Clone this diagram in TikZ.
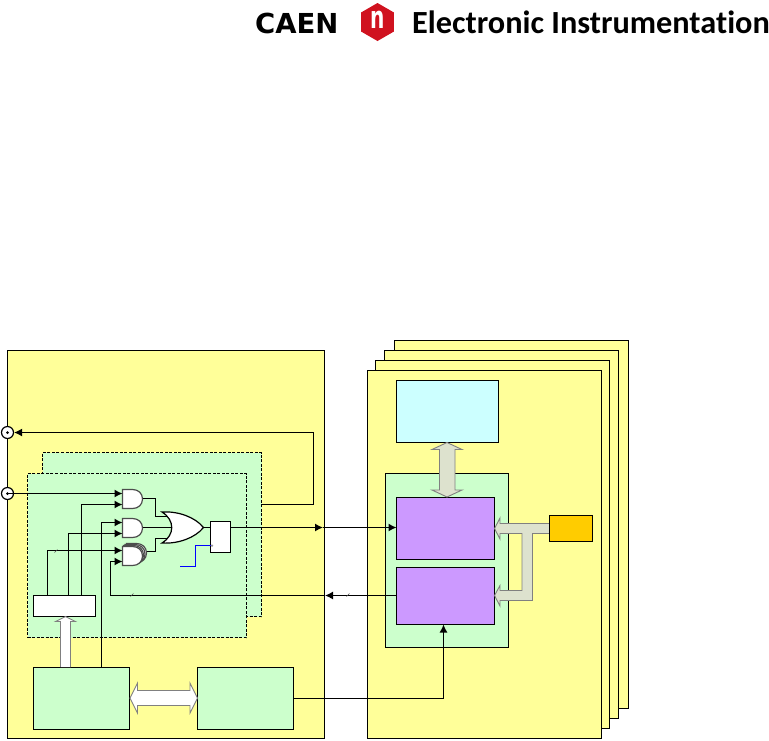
\documentclass[tikz,border=0pt]{standalone}
\usepackage{fontspec}
\usepackage{tikz}
\usetikzlibrary{arrows.meta, positioning, calc, shapes.geometric}

\newfontfamily\logoheavy{DejaVu Sans}
\newfontfamily\logotext[Ligatures=NoCommon]{Carlito}

\definecolor{boardyellow}{HTML}{FFFF99}
\definecolor{logicgreen}{HTML}{CCFFCC}
\definecolor{memcyan}{HTML}{CCFFFF}
\definecolor{fpgapurple}{HTML}{CC99FF}
\definecolor{clockorange}{HTML}{FFCC00}
\definecolor{busgrey}{HTML}{DDE2CE}
\definecolor{caenred}{HTML}{D0121F}

\tikzset{
    block/.style={draw=black, line width=1.2pt, inner sep=0pt, outer sep=0pt, anchor=north west},
    dashblock/.style={block, fill=logicgreen, line width=1pt, dash pattern=on 3pt off 1.5pt},
    sig/.style={draw=black, line width=1.2pt},
    sigarrow/.style={sig, -{Latex[length=8pt,width=8pt]}},
    conn/.style={circle, draw=black, fill=white, line width=1.2pt, minimum size=12pt, inner sep=0pt},
    bigarrow/.style={draw=black!50, line width=0.9pt},
    pics/andgate/.style={code={
        \draw[draw=black!70, fill=white, line width=1.2pt] (0,0) -- (10,0) .. controls (16,0) and (20,4) .. (20,9.5)
            .. controls (20,15) and (16,19) .. (10,19) -- (0,19) -- cycle;
        \coordinate (-ina) at (0,4);
        \coordinate (-inb) at (0,15);
        \coordinate (-out) at (20,9);
    }}
}

\begin{document}
\begin{tikzpicture}[x=1pt, y=-1pt]
    \useasboundingbox (0,0) rectangle (769,740);

    % logo
    \node[anchor=base west, inner sep=0pt, font=\logoheavy\bfseries\fontsize{27.5}{27.5}\selectfont] (caen) at (255,33) {CAEN};
    \node[regular polygon, regular polygon sides=6, regular polygon rotate=30, fill=caenred, minimum size=38pt, inner sep=0pt] (hex) at (377.5,22) {};
    \node[text=white, xscale=0.65, font=\logoheavy\bfseries\fontsize{31}{31}\selectfont, inner sep=0pt] (hexn) at (377.5,20) {n};
    \node[anchor=base west, inner sep=0pt, font=\logotext\bfseries\fontsize{32.3}{32.3}\selectfont] (title) at (412,33) {Electronic Instrumentation};

    % left board
    \node[block, fill=boardyellow, minimum width=317pt, minimum height=388pt] (board) at (7.5,350.5) {};
    \node[dashblock, minimum width=219pt, minimum height=164pt] (logicb) at (42.5,452.5) {};
    \node[dashblock, minimum width=219pt, minimum height=164pt] (logica) at (27.5,473.5) {};
    \node[block, fill=white, minimum width=62pt, minimum height=21pt] (sel) at (33.5,595.5) {};
    \node[block, fill=logicgreen, minimum width=96pt, minimum height=62pt] (ctrl) at (33.5,667.5) {};
    \node[block, fill=logicgreen, minimum width=96pt, minimum height=62pt] (tdc) at (197.5,667.5) {};
    \node[block, fill=white, minimum width=20pt, minimum height=31pt] (ff) at (210.5,521.5) {};

    \node[conn] (conna) at (7.5,432.5) {};
    \node[conn] (connb) at (7.5,493.5) {};
    \fill (conna) circle (1.5);
    \fill (connb) circle (1.5);

    % gates
    \pic (andthreec) at (126.5,543.5) {andgate};
    \pic (andthreeb) at (125,544.5) {andgate};
    \pic (andthreea) at (123.5,545.5) {andgate};
    \pic (andthree) at (122.5,546.5) {andgate};
    \pic (andone) at (122.5,489.5) {andgate};
    \pic (andtwo) at (122.5,518.5) {andgate};

    \coordinate (orina) at (170,516.5);
    \coordinate (orinb) at (172,527.5);
    \coordinate (orinc) at (170,538.5);
    \coordinate (orout) at (203.5,527.5);
    \draw[sig] (andone-out) -| (155.5,516.5) -- (orina);
    \draw[sig] (andtwo-out) -- (orinb);
    \draw[sig] (146.5,551.5) -| (155.5,538.5) -- (orinc);
    \draw[draw=black, fill=white, line width=1.2pt] (162,512) .. controls (178,511) and (195,517) .. (orout)
        .. controls (195,538) and (178,544) .. (162,543)
        .. controls (175,535) and (175,520) .. (162,512) -- cycle;
    \draw[sig] (orout) -- (orout -| ff.west);

    % gate inputs
    \draw[sigarrow] (connb.center) -- (andone-ina);
    \draw[sigarrow] (81.5,0 |- sel.north) |- (andone-inb);
    \draw[sigarrow] (101.5,0 |- ctrl.north) |- (andtwo-ina);
    \draw[sigarrow] (68.5,0 |- sel.north) |- (andtwo-inb);
    \draw[sigarrow] (47.5,0 |- sel.north) |- (andthree-ina);

    \draw[sigarrow] (logicb.east |- 0,504.5) -| (313.5,432.5) -- (conna.east);

    % clock step
    \coordinate (ffclk) at (212,545.5);
    \draw[blue, line width=1.2pt] (180,566.5) -| (195.5,545.5) -- (ffclk);
    \draw[gray, fill=white, line width=0.5pt] (ffclk) circle (0.9);

    % cards
    \foreach \n/\x/\y in {3/394.5/340.5, 2/384.5/350.5, 1/375.5/360.5, 0/367.5/370.5}
        \node[block, fill=boardyellow, minimum width=234pt, minimum height=368pt] (card\n) at (\x,\y) {};

    \node[block, fill=memcyan, minimum width=102pt, minimum height=62pt] (mem) at (396.5,380.5) {};
    \node[block, fill=logicgreen, minimum width=123pt, minimum height=174pt] (fpga) at (385.5,473.5) {};
    \node[block, fill=fpgapurple, minimum width=98pt, minimum height=62pt] (acq) at (396.5,497.5) {};
    \node[block, fill=fpgapurple, minimum width=98pt, minimum height=57pt] (roc) at (396.5,567.5) {};

    % busses
    \draw[bigarrow, fill=busgrey] (447,442.5) -- (462,449.5) -- (455,449.5) -- (455,490) -- (462,490) -- (447,497)
        -- (432,490) -- (439.5,490) -- (439.5,449.5) -- (432,449.5) -- cycle;
    \draw[bigarrow, fill=busgrey] (549.5,523.5) -- (500,523.5) -- (500,518) -- (494.5,528.5)
        -- (500,539) -- (500,533.5) -- (522,533.5) -- (522,590.5) -- (500,590.5) -- (500,585.5) -- (494.5,595.5)
        -- (500,606) -- (500,600.5) -- (532.5,600.5) -- (532.5,533.5) -- (549.5,533.5) -- cycle;
    \node[block, fill=clockorange, minimum width=43pt, minimum height=26pt] (clk) at (549.5,515.5) {};
    \draw[bigarrow, fill=white] (60.5,667) -- (60.5,621.5) -- (55.5,621.5) -- (65.5,616.5) -- (75.5,621.5) -- (70.5,621.5) -- (70.5,667);
    \draw[bigarrow, fill=white] (130,698) -- (137.5,683) -- (137.5,690.5) -- (190,690.5) -- (190,683) -- (197.5,698)
        -- (190,713) -- (190,705.5) -- (137.5,705.5) -- (137.5,713) -- cycle;

    % card links
    \coordinate (edgein) at (323,527.5);
    \coordinate (edgeout) at (325,595.5);
    \draw[sigarrow] (ff.east |- edgein) -- (edgein);
    \draw[sigarrow] (edgein) -- (edgein -| acq.west);
    \draw[sigarrow] (edgeout -| roc.west) -- (edgeout);
    \draw[sigarrow] (edgeout) -| (110.5,561.5) -- (andthree-inb);
    \draw[sigarrow] (tdc.east) -| (443.5,0 |- roc.south);

    \foreach \x/\y in {56/551, 132/595, 348/595}
        \draw[black!70, line width=0.5pt] (\x-1.5,\y+1.5) -- (\x+1.5,\y-1.5);
\end{tikzpicture}
\end{document}
